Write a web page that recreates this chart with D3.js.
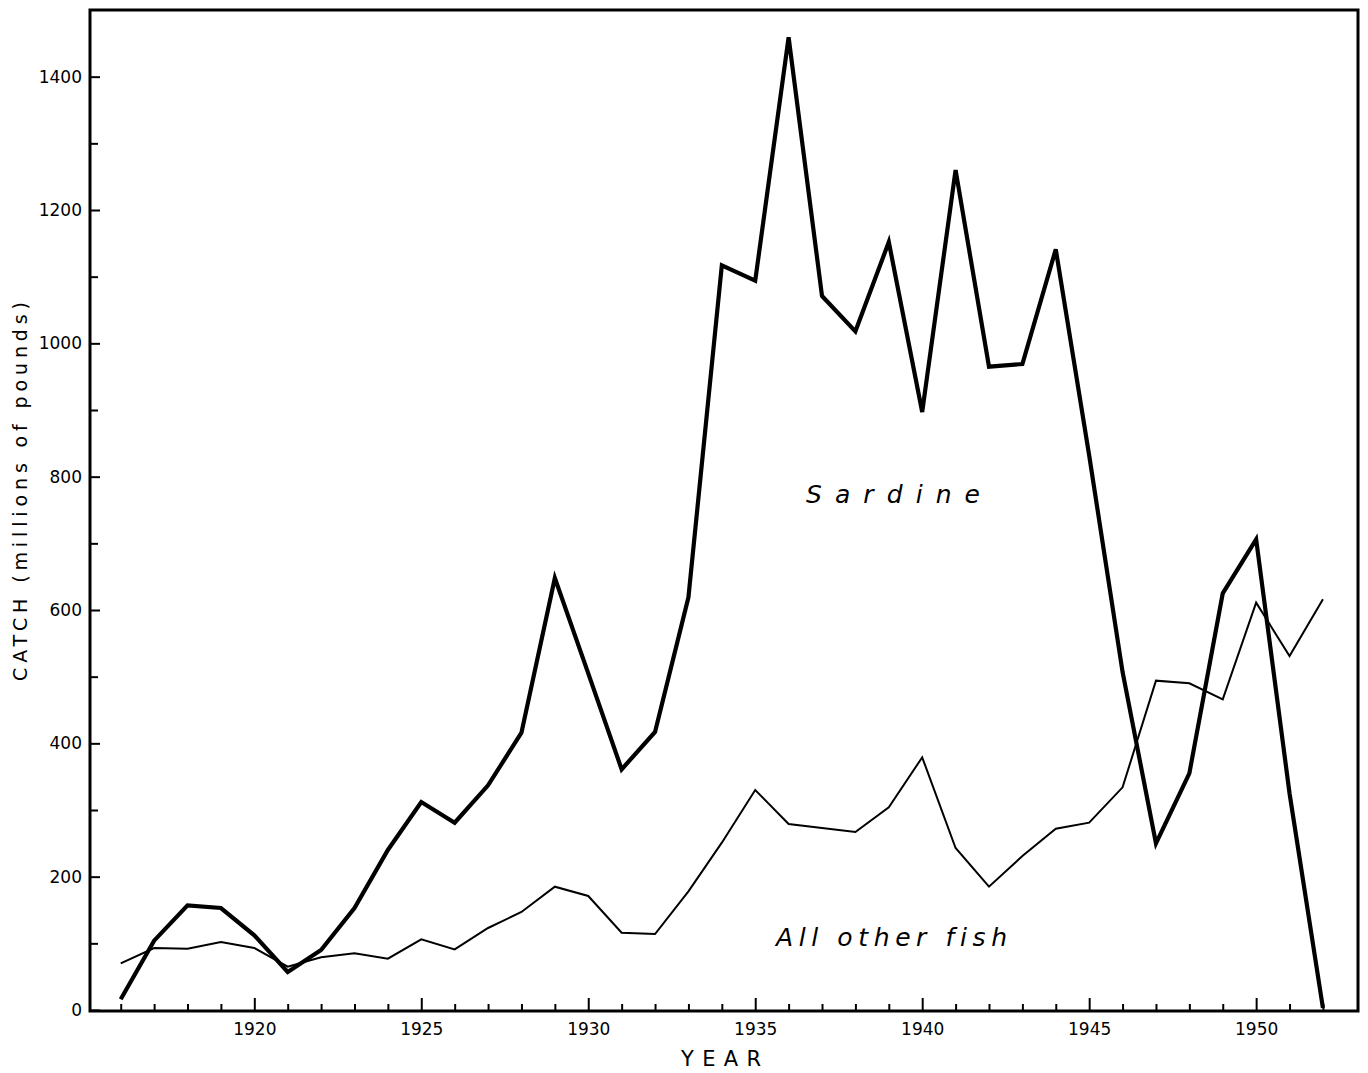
<!DOCTYPE html>
<html>
<head>
<meta charset="utf-8">
<script src="https://cdn.jsdelivr.net/npm/d3@7"></script>
<style>
  html, body { margin: 0; padding: 0; background: #fff; }
  svg { display: block; }
  text { font-family: "DejaVu Sans", "Liberation Sans", sans-serif; fill: #000; font-variant-ligatures: none; }
</style>
</head>
<body>
<svg id="chart" width="1368" height="1073"></svg>
<script>
// California catch, millions of pounds
const years = [1916,1917,1918,1919,1920,1921,1922,1923,1924,1925,1926,1927,1928,1929,1930,
  1931,1932,1933,1934,1935,1936,1937,1938,1939,1940,1941,1942,1943,1944,1945,1946,1947,1948,
  1949,1950,1951,1952];
const sardine = [16,104,157,153,112,57,90,153,240,312,281,337,416,648,505,
  361,417,619,1117,1094,1459,1071,1018,1152,897,1260,965,969,1141,832,507,250,355,
  625,706,325,3];
const otherFish = [70,93,92,102,93,65,79,85,77,106,91,123,147,185,171,
  116,114,178,251,330,279,273,267,304,379,243,185,231,272,281,334,494,490,
  466,611,531,616];
const yTickValues = [0,200,400,600,800,1000,1200,1400];
const xTickLabels = [1920,1925,1930,1935,1940,1945,1950];

const svg = d3.select("#chart");
const plotLeft = 90, plotRight = 1358, plotTop = 10, plotBottom = 1010;

const x = d3.scaleLinear().domain([1915.08, 1953.05]).range([plotLeft, plotRight]);
const y = d3.scaleLinear().domain([0, 1500]).range([plotBottom, plotTop]);

// y axis: major ticks every 200, minor every 100, all pointing inward
svg.append("g")
  .attr("transform", `translate(${plotLeft},0)`)
  .call(d3.axisLeft(y).tickValues(d3.range(100, 1500, 200)).tickSize(-8).tickFormat(""))
  .call(g => g.select(".domain").remove())
  .call(g => g.selectAll("line").attr("stroke", "#000").attr("stroke-width", 2));
svg.append("g")
  .attr("transform", `translate(${plotLeft},0)`)
  .call(d3.axisLeft(y).tickValues(yTickValues).tickSize(-10).tickPadding(8).tickFormat(d3.format("d")))
  .call(g => g.select(".domain").remove())
  .call(g => g.selectAll("line").attr("stroke", "#000").attr("stroke-width", 2))
  .call(g => g.selectAll("text").attr("font-size", 17).attr("font-family", "DejaVu Sans").attr("fill", "#000"));

// x axis: a tick every year, longer on the fives
svg.append("g")
  .attr("transform", `translate(0,${plotBottom + 1})`)
  .call(d3.axisBottom(x).tickValues(years.filter(v => v % 5 !== 0)).tickSize(-7).tickFormat(""))
  .call(g => g.select(".domain").remove())
  .call(g => g.selectAll("line").attr("stroke", "#000").attr("stroke-width", 2));
svg.append("g")
  .attr("transform", `translate(0,${plotBottom + 1})`)
  .call(d3.axisBottom(x).tickValues(xTickLabels).tickSize(-13).tickPadding(12).tickFormat(d3.format("d")))
  .call(g => g.select(".domain").remove())
  .call(g => g.selectAll("line").attr("stroke", "#000").attr("stroke-width", 2))
  .call(g => g.selectAll("text").attr("font-size", 17).attr("font-family", "DejaVu Sans").attr("fill", "#000"));

// frame
svg.append("rect")
  .attr("x", plotLeft).attr("y", plotTop)
  .attr("width", plotRight - plotLeft).attr("height", plotBottom + 1 - plotTop)
  .attr("fill", "none").attr("stroke", "#000").attr("stroke-width", 3);

// series
const line = vals => d3.line()
  .x((d, i) => x(years[i]))
  .y(d => y(d))(vals);

svg.append("path")
  .attr("d", line(otherFish))
  .attr("fill", "none").attr("stroke", "#000").attr("stroke-width", 2)
  .attr("stroke-linejoin", "miter");

svg.append("path")
  .attr("d", line(sardine))
  .attr("fill", "none").attr("stroke", "#000").attr("stroke-width", 4.2)
  .attr("stroke-linejoin", "miter");

// series labels
svg.append("text")
  .attr("x", 806).attr("y", 503)
  .attr("font-size", 25).attr("font-style", "italic")
  .attr("textLength", 174).attr("lengthAdjust", "spacing")
  .text("Sardine");

svg.append("text")
  .attr("x", 776).attr("y", 946)
  .attr("font-size", 25).attr("font-style", "italic")
  .attr("textLength", 231).attr("lengthAdjust", "spacing")
  .text("All other fish");

// axis titles
svg.append("text")
  .attr("x", 681).attr("y", 1066)
  .attr("font-size", 21)
  .attr("textLength", 80).attr("lengthAdjust", "spacing")
  .text("YEAR");

svg.append("text")
  .attr("transform", "translate(27,681) rotate(-90)")
  .attr("x", 0).attr("y", 0)
  .attr("font-size", 19)
  .attr("textLength", 379).attr("lengthAdjust", "spacing")
  .text("CATCH (millions of pounds)");
</script>
</body>
</html>
